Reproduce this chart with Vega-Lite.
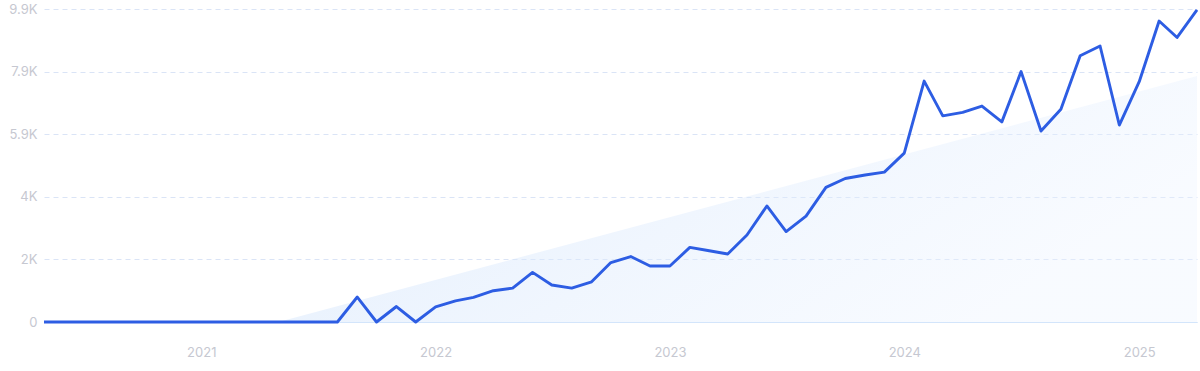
{
  "$schema": "https://vega.github.io/schema/vega-lite/v6.json",
  "width": 1153,
  "height": 313,
  "autosize": {"type": "none"},
  "padding": {"left": 44, "top": 9, "right": 3, "bottom": 49},
  "background": "#ffffff",
  "config": {
    "view": {"stroke": null},
    "font": "Inter"
  },
  "datasets": {
    "series": [
      {"date": "2020-05-01", "value": 0},
      {"date": "2020-06-01", "value": 0},
      {"date": "2020-07-01", "value": 0},
      {"date": "2020-08-01", "value": 0},
      {"date": "2020-09-01", "value": 0},
      {"date": "2020-10-01", "value": 0},
      {"date": "2020-11-01", "value": 0},
      {"date": "2020-12-01", "value": 0},
      {"date": "2021-01-01", "value": 0},
      {"date": "2021-02-01", "value": 0},
      {"date": "2021-03-01", "value": 0},
      {"date": "2021-04-01", "value": 0},
      {"date": "2021-05-01", "value": 0},
      {"date": "2021-06-01", "value": 0},
      {"date": "2021-07-01", "value": 0},
      {"date": "2021-08-01", "value": 0},
      {"date": "2021-09-01", "value": 790},
      {"date": "2021-10-01", "value": 0},
      {"date": "2021-11-01", "value": 490},
      {"date": "2021-12-01", "value": 0},
      {"date": "2022-01-01", "value": 480},
      {"date": "2022-02-01", "value": 670},
      {"date": "2022-03-01", "value": 780},
      {"date": "2022-04-01", "value": 990},
      {"date": "2022-05-01", "value": 1070},
      {"date": "2022-06-01", "value": 1570},
      {"date": "2022-07-01", "value": 1170},
      {"date": "2022-08-01", "value": 1070},
      {"date": "2022-09-01", "value": 1270},
      {"date": "2022-10-01", "value": 1880},
      {"date": "2022-11-01", "value": 2070},
      {"date": "2022-12-01", "value": 1770},
      {"date": "2023-01-01", "value": 1770},
      {"date": "2023-02-01", "value": 2360},
      {"date": "2023-03-01", "value": 2260},
      {"date": "2023-04-01", "value": 2150},
      {"date": "2023-05-01", "value": 2750},
      {"date": "2023-06-01", "value": 3670},
      {"date": "2023-07-01", "value": 2860},
      {"date": "2023-08-01", "value": 3350},
      {"date": "2023-09-01", "value": 4260},
      {"date": "2023-10-01", "value": 4540},
      {"date": "2023-11-01", "value": 4650},
      {"date": "2023-12-01", "value": 4740},
      {"date": "2024-01-01", "value": 5340},
      {"date": "2024-02-01", "value": 7620},
      {"date": "2024-03-01", "value": 6520},
      {"date": "2024-04-01", "value": 6630},
      {"date": "2024-05-01", "value": 6830},
      {"date": "2024-06-01", "value": 6330},
      {"date": "2024-07-01", "value": 7920},
      {"date": "2024-08-01", "value": 6040},
      {"date": "2024-09-01", "value": 6730},
      {"date": "2024-10-01", "value": 8420},
      {"date": "2024-11-01", "value": 8730},
      {"date": "2024-12-01", "value": 6230},
      {"date": "2025-01-01", "value": 7600},
      {"date": "2025-02-01", "value": 9520},
      {"date": "2025-03-01", "value": 9000},
      {"date": "2025-04-01", "value": 9870}
    ],
    "trend": [
      {"date": "2021-05-01", "value": 0},
      {"date": "2025-04-01", "value": 7780}
    ]
  },
  "layer": [
    {
      "data": {"name": "trend"},
      "mark": {
        "type": "area",
        "interpolate": "linear",
        "color": {
          "gradient": "linear",
          "x1": 0, "y1": 0, "x2": 1, "y2": 0.4,
          "stops": [
            {"offset": 0, "color": "rgba(200,222,250,0.55)"},
            {"offset": 1, "color": "rgba(235,243,255,0.35)"}
          ]
        }
      },
      "encoding": {
        "x": {
          "field": "date", "type": "temporal", "scale": {"type": "utc"},
          "axis": {
            "title": null,
            "format": "%Y",
            "tickCount": {"interval": "year", "step": 1},
            "grid": false,
            "ticks": false,
            "domain": true,
            "domainColor": "#d3e5fb",
            "domainWidth": 1.2,
            "labelColor": "#c6c8d1",
            "labelFontSize": 13,
            "labelPadding": 24,
            "labelFont": "Inter"
          }
        },
        "y": {
          "field": "value", "type": "quantitative",
          "scale": {"domain": [0, 9900], "nice": false, "zero": true},
          "axis": {
            "title": null,
            "values": [0, 1980, 3960, 5940, 7920, 9900],
            "labelExpr": "replace(format(datum.value, '.2~s'), 'k', 'K')",
            "domain": false,
            "ticks": false,
            "grid": true,
            "gridColor": "#dae4f6",
            "gridDash": [5, 4],
            "gridWidth": 1,
            "labelColor": "#c6c8d1",
            "labelFontSize": 13,
            "labelPadding": 7,
            "labelFont": "Inter"
          }
        }
      }
    },
    {
      "data": {"name": "series"},
      "mark": {"type": "line", "color": "#2d5de3", "strokeWidth": 2.9, "interpolate": "linear", "strokeJoin": "round"},
      "encoding": {
        "x": {"field": "date", "type": "temporal", "scale": {"type": "utc"}},
        "y": {"field": "value", "type": "quantitative"}
      }
    }
  ]
}
